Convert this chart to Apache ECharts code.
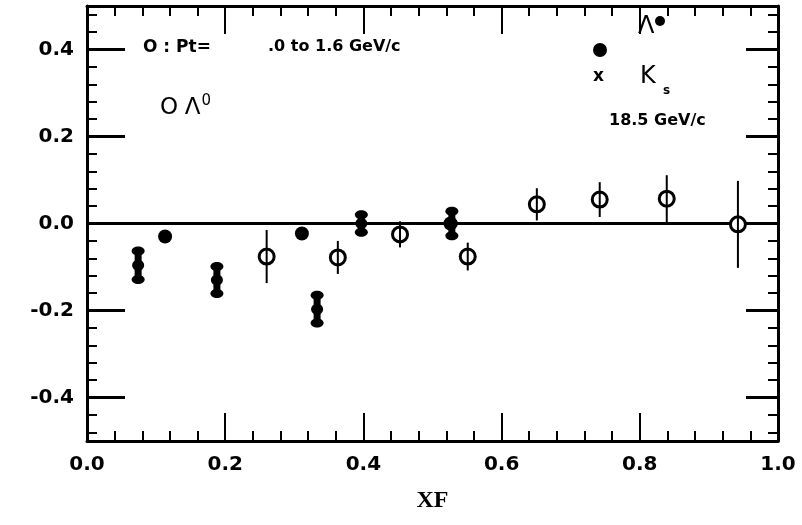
<!DOCTYPE html>
<html>
<head>
<meta charset="utf-8">
<script src="https://cdn.jsdelivr.net/npm/echarts@6/dist/echarts.min.js"></script>
<style>
  html, body { margin: 0; padding: 0; background: #fff; }
  #chart { width: 802px; height: 525px; }
</style>
</head>
<body>
<div id="chart"></div>
<script>
// open circles: Lambda0 (xF, asymmetry, error)
const lambdaX = [0.26, 0.363, 0.453, 0.551, 0.651, 0.742, 0.839, 0.942];
const lambdaY = [-0.076, -0.078, -0.025, -0.076, 0.044, 0.055, 0.057, -0.002];
const lambdaErr = [0.061, 0.038, 0.03, 0.032, 0.037, 0.04, 0.054, 0.1];

// filled circles: anti-Lambda0
const lambdaBarX = [0.113, 0.311, 0.526];
const lambdaBarY = [-0.03, -0.023, 0.0];

// crosses: Ks
const ksX = [0.074, 0.188, 0.333, 0.397, 0.528];
const ksY = [-0.096, -0.13, -0.197, 0.0, 0.0];
const ksErr = [0.033, 0.031, 0.032, 0.02, 0.028];

const yMajorTicks = [-0.4, -0.2, 0, 0.2, 0.4];
const yMinorTicks = [-0.48, -0.44, -0.36, -0.32, -0.28, -0.24, -0.16, -0.12, -0.08, -0.04,
                     0.04, 0.08, 0.12, 0.16, 0.24, 0.28, 0.32, 0.36, 0.44, 0.48];

const labelFont = 'DejaVu Sans';
const ink = '#000';

function zip3(a, b, c) {
    return a.map((v, i) => [v, b[i], c ? c[i] : 0]);
}

function renderOpen(params, api) {
    const c = api.coord([api.value(0), api.value(1)]);
    const hi = api.coord([api.value(0), api.value(1) + api.value(2)]);
    const lo = api.coord([api.value(0), api.value(1) - api.value(2)]);
    return {
        type: 'group',
        children: [
            { type: 'circle', shape: { cx: c[0], cy: c[1], r: 7.5 }, style: { fill: '#fff', stroke: ink, lineWidth: 3 } },
            { type: 'line', shape: { x1: c[0], y1: hi[1], x2: c[0], y2: lo[1] }, style: { stroke: ink, lineWidth: 2 } }
        ]
    };
}

function renderFilled(params, api) {
    const c = api.coord([api.value(0), api.value(1)]);
    return { type: 'circle', shape: { cx: c[0], cy: c[1], r: 7 }, style: { fill: ink } };
}

function renderKs(params, api) {
    const c = api.coord([api.value(0), api.value(1)]);
    const hi = api.coord([api.value(0), api.value(1) + api.value(2)]);
    const lo = api.coord([api.value(0), api.value(1) - api.value(2)]);
    const blob = (y, rx, ry) => ({ type: 'ellipse', shape: { cx: c[0], cy: y, rx: rx, ry: ry }, style: { fill: ink } });
    return {
        type: 'group',
        children: [
            { type: 'line', shape: { x1: c[0], y1: hi[1], x2: c[0], y2: lo[1] }, style: { stroke: ink, lineWidth: 7 } },
            blob(hi[1], 6.5, 4.5),
            blob(lo[1], 6.5, 4.5),
            blob(c[1], 6, 5.5)
        ]
    };
}

const chart = echarts.init(document.getElementById('chart'));

const baseX = {
    type: 'value', min: 0, max: 1, interval: 0.2,
    axisLine: { show: true, onZero: false, lineStyle: { color: ink, width: 3 } },
    axisTick: { show: true, inside: true, length: 28, lineStyle: { color: ink, width: 2 } },
    minorTick: { show: true, splitNumber: 5, length: 10, lineStyle: { color: ink, width: 2 } },
    splitLine: { show: false },
    minorSplitLine: { show: false }
};

const yMajor = (pos, len, labels) => ({
    type: 'value', min: -0.5, max: 0.5, position: pos,
    axisLine: { show: true, onZero: false, lineStyle: { color: ink, width: 3 } },
    axisTick: { show: true, inside: true, length: len, customValues: yMajorTicks, lineStyle: { color: ink, width: 3 } },
    axisLabel: labels ? {
        show: true, customValues: yMajorTicks, margin: 13,
        formatter: v => v.toFixed(1),
        color: ink, fontFamily: labelFont, fontWeight: 'bold', fontSize: 20
    } : { show: false },
    splitLine: { show: false }
});

const yMinor = (pos) => ({
    type: 'value', min: -0.5, max: 0.5, position: pos,
    axisLine: { show: false, onZero: false },
    axisTick: { show: true, inside: true, length: 10, customValues: yMinorTicks, lineStyle: { color: ink, width: 2 } },
    axisLabel: { show: false },
    splitLine: { show: false }
});

const option = {
    backgroundColor: '#fff',
    animation: false,
    grid: { left: 87, right: 24, top: 6, bottom: 84 },
    xAxis: [
        Object.assign({}, baseX, {
            position: 'bottom',
            axisLabel: {
                formatter: v => v.toFixed(1), margin: 14,
                color: ink, fontFamily: labelFont, fontWeight: 'bold', fontSize: 20
            },
            name: 'XF', nameLocation: 'middle', nameGap: 48,
            nameTextStyle: { color: ink, fontFamily: 'Liberation Serif', fontWeight: 'bold', fontSize: 24 }
        }),
        Object.assign({}, baseX, { position: 'top', axisLabel: { show: false } })
    ],
    yAxis: [yMajor('left', 38, true), yMinor('left'), yMajor('right', 32, false), yMinor('right')],
    series: [
        {
            type: 'custom', name: 'Ks', renderItem: renderKs,
            data: zip3(ksX, ksY, ksErr), encode: { x: 0, y: 1 },
            markLine: {
                silent: true, symbol: ['none', 'none'], label: { show: false },
                lineStyle: { color: ink, width: 3, type: 'solid' },
                data: [{ yAxis: 0 }]
            },
            z: 3
        },
        {
            type: 'custom', name: 'Lambda-bar', renderItem: renderFilled,
            data: zip3(lambdaBarX, lambdaBarY), encode: { x: 0, y: 1 }, z: 4
        },
        {
            type: 'custom', name: 'Lambda', renderItem: renderOpen,
            data: zip3(lambdaX, lambdaY, lambdaErr), encode: { x: 0, y: 1 }, z: 5
        }
    ],
    graphic: [
        { type: 'text', left: 143, top: 39, style: { text: 'O : Pt=', fill: ink, font: 'bold 17px DejaVu Sans' } },
        { type: 'text', left: 268, top: 39, style: { text: '.0 to 1.6 GeV/c', fill: ink, font: 'bold 16px DejaVu Sans' } },
        {
            type: 'text', left: 160, top: 94,
            style: {
                text: '{a|O}  {a|Λ}{s|0}', fill: ink,
                rich: {
                    a: { font: '23px DejaVu Sans', fill: ink },
                    s: { font: '15px DejaVu Sans', fill: ink, padding: [0, 0, 14, 1] }
                }
            }
        },
        { type: 'text', left: 638, top: 15, style: { text: 'Λ', fill: ink, font: '24px DejaVu Sans' } },
        { type: 'circle', shape: { cx: 660, cy: 21, r: 5 }, style: { fill: ink } },
        { type: 'circle', shape: { cx: 600, cy: 50, r: 7 }, style: { fill: ink } },
        { type: 'text', left: 593, top: 68, style: { text: 'x', fill: ink, font: 'bold 17px DejaVu Sans' } },
        { type: 'text', left: 640, top: 65, style: { text: 'K', fill: ink, font: '24px DejaVu Sans' } },
        { type: 'text', left: 663, top: 85, style: { text: 's', fill: ink, font: 'bold 12px DejaVu Sans' } },
        { type: 'text', left: 609, top: 113, style: { text: '18.5 GeV/c', fill: ink, font: 'bold 16px DejaVu Sans' } }
    ]
};

chart.setOption(option);
</script>
</body>
</html>
